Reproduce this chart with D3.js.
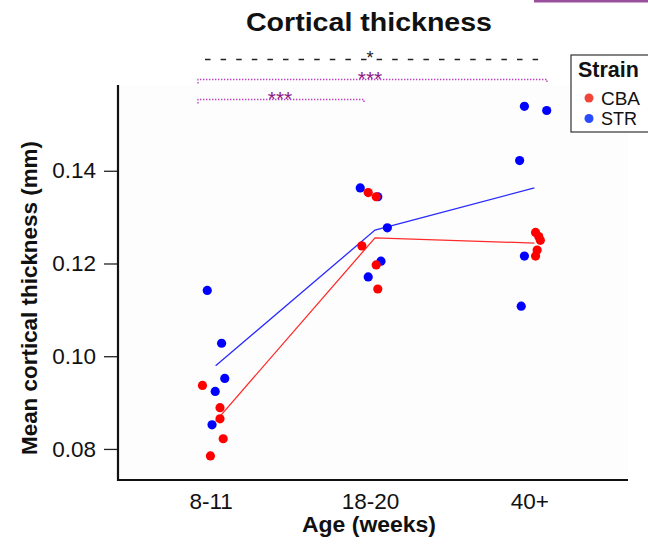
<!DOCTYPE html>
<html>
<head>
<meta charset="utf-8">
<script src="https://cdn.jsdelivr.net/npm/d3@7"></script>
<style>
  body { margin: 0; background: white; }
  text { font-family: "Liberation Sans", Arial, sans-serif; }
</style>
</head>
<body>
<div id="container"></div>
<script>
let w = 648;
let h = 545;

// data
let ages = ["8-11", "18-20", "40+"];
let strains = ["CBA", "STR"];
let yTicks = [0.08, 0.10, 0.12, 0.14];

let cbaAge = ["8-11", "8-11", "8-11", "8-11", "8-11",
              "18-20", "18-20", "18-20", "18-20", "18-20",
              "40+", "40+", "40+", "40+", "40+"];
let cbaValue = [0.0937, 0.0889, 0.0865, 0.0822, 0.0785,
                0.1353, 0.1344, 0.1238, 0.1197, 0.1145,
                0.1267, 0.1258, 0.1250, 0.1229, 0.1216];
let cbaJitter = [-0.07, 0.04, 0.04, 0.06, -0.02,
                 -0.03, 0.02, -0.07, 0.02, 0.03,
                 0.02, 0.04, 0.05, 0.03, 0.02];

let strAge = ["8-11", "8-11", "8-11", "8-11", "8-11",
              "18-20", "18-20", "18-20", "18-20", "18-20",
              "40+", "40+", "40+", "40+", "40+"];
let strValue = [0.1142, 0.1028, 0.0952, 0.0924, 0.0852,
                0.1363, 0.1344, 0.1277, 0.1205, 0.1171,
                0.1539, 0.1530, 0.1422, 0.1216, 0.1108];
let strJitter = [-0.04, 0.05, 0.07, 0.01, -0.01,
                 -0.08, 0.03, 0.09, 0.05, -0.03,
                 -0.05, 0.09, -0.08, -0.05, -0.07];

let colors = {CBA: "#ff0000", STR: "#0000ff"};
let lineColors = {CBA: "#ff2a2a", STR: "#2a2aff"};
let legendColors = {CBA: "#f2443a", STR: "#2a4cff"};

let viz = d3.select("#container")
  .append("svg")
    .attr("width", w)
    .attr("height", h)
    .style("background-color", "white")
;

let padLeft = 118, padRight = 628, padTop = 85, padBottom = 480;

let xScale = d3.scalePoint().domain(ages).range([padLeft, padRight]).padding(0.6);
let step = xScale.step();
let yScale = d3.scaleLinear().domain([0.0733, 0.1585]).range([padBottom, padTop]);

// faint panel
viz.append("rect")
  .attr("x", padLeft).attr("y", padTop)
  .attr("width", padRight - padLeft).attr("height", padBottom - padTop)
  .attr("fill", "#fdfdfd");

// stray purple strip at the top right
viz.append("rect")
  .attr("x", 534).attr("y", 0).attr("width", 114).attr("height", 2.5)
  .attr("fill", "#9a4f9e");

// axes
let yAxis = d3.axisLeft(yScale).tickValues(yTicks).tickFormat(d3.format(".2f")).tickSize(14).tickPadding(8);
let yg = viz.append("g").attr("transform", "translate(" + padLeft + ",0)").call(yAxis);
yg.select(".domain").remove();
yg.selectAll("line").attr("stroke", "#222").attr("stroke-width", 1.3);
yg.selectAll("text").attr("font-size", 22.5).attr("fill", "#111").attr("font-family", "Liberation Sans, Arial");

let xAxis = d3.axisBottom(xScale).tickSize(0).tickPadding(13);
let xg = viz.append("g").attr("transform", "translate(0," + padBottom + ")").call(xAxis);
xg.select(".domain").remove();
xg.selectAll("text").attr("font-size", 22.5).attr("fill", "#111").attr("font-family", "Liberation Sans, Arial")
  .attr("dx", -3);

viz.append("line").attr("x1", padLeft).attr("x2", padLeft).attr("y1", padTop).attr("y2", padBottom + 1)
  .attr("stroke", "#111").attr("stroke-width", 2.2);
viz.append("line").attr("x1", padLeft - 1).attr("x2", padRight).attr("y1", padBottom).attr("y2", padBottom)
  .attr("stroke", "#111").attr("stroke-width", 2.2);

// mean lines
function means(ageArr, valArr){
  return ages.map(function(a){
    let vals = valArr.filter(function(v, i){ return ageArr[i] == a; });
    return {age: a, value: d3.mean(vals)};
  });
}
let lineGen = d3.line()
  .x(function(d){ return xScale(d.age) + 2; })
  .y(function(d){ return yScale(d.value); });

viz.append("path").datum(means(strAge, strValue))
  .attr("d", lineGen).attr("fill", "none")
  .attr("stroke", lineColors.STR).attr("stroke-width", 1.3);
viz.append("path").datum(means(cbaAge, cbaValue))
  .attr("d", lineGen).attr("fill", "none")
  .attr("stroke", lineColors.CBA).attr("stroke-width", 1.3);

// points
function drawPoints(ageArr, valArr, jitArr, color){
  let pts = ageArr.map(function(a, i){ return {age: a, value: valArr[i], jit: jitArr[i]}; });
  viz.append("g").selectAll("circle").data(pts).enter()
    .append("circle")
      .attr("cx", function(d){ return xScale(d.age) + d.jit * step; })
      .attr("cy", function(d){ return yScale(d.value); })
      .attr("r", 4.6)
      .attr("fill", color);
}
drawPoints(strAge, strValue, strJitter, colors.STR);
drawPoints(cbaAge, cbaValue, cbaJitter, colors.CBA);

// significance brackets
let sig = viz.append("g");
sig.append("line")
  .attr("x1", 205).attr("x2", 541).attr("y1", 59.5).attr("y2", 59.5)
  .attr("stroke", "#222").attr("stroke-width", 1.5).attr("stroke-dasharray", "5.5,10.1");
sig.append("text").text("*")
  .attr("x", 370).attr("y", 64).attr("text-anchor", "middle")
  .attr("font-size", 18).attr("fill", "#222");

let purple = "#c040c0";
function bracket(x1, x2, y, label, lx){
  sig.append("path")
    .attr("d", "M" + x1 + "," + (y + 4) + "V" + y + "H" + x2 + "V" + (y + 4))
    .attr("fill", "none").attr("stroke", purple).attr("stroke-width", 1.4)
    .attr("stroke-dasharray", "1.4,1.6");
  sig.append("text").text(label)
    .attr("x", lx).attr("y", y + 6).attr("text-anchor", "middle")
    .attr("font-size", 21).attr("fill", "#8a1a8a");
}
bracket(198, 547, 79.5, "***", 370);
bracket(198, 364, 99.5, "***", 280);

// titles
viz.append("text").text("Cortical thickness")
  .attr("x", 369).attr("y", 31).attr("text-anchor", "middle")
  .attr("font-size", 26).attr("font-weight", "bold").attr("fill", "#111")
  .attr("textLength", 246).attr("lengthAdjust", "spacingAndGlyphs");
viz.append("text").text("Age (weeks)")
  .attr("x", 369).attr("y", 532).attr("text-anchor", "middle")
  .attr("font-size", 22.5).attr("font-weight", "bold").attr("fill", "#111")
  .attr("textLength", 134).attr("lengthAdjust", "spacingAndGlyphs");
viz.append("text").text("Mean cortical thickness (mm)")
  .attr("transform", "translate(37,298) rotate(-90)").attr("text-anchor", "middle")
  .attr("font-size", 22.5).attr("font-weight", "bold").attr("fill", "#111")
  .attr("textLength", 314).attr("lengthAdjust", "spacingAndGlyphs");

// legend
let legend = viz.append("g");
legend.append("rect")
  .attr("x", 571).attr("y", 55).attr("width", 90).attr("height", 77)
  .attr("fill", "white").attr("stroke", "#333").attr("stroke-width", 1.2);
legend.append("text").text("Strain")
  .attr("x", 578).attr("y", 77)
  .attr("font-size", 21.5).attr("font-weight", "bold").attr("fill", "#111");
let items = legend.selectAll(".item").data(strains).enter()
  .append("g")
    .attr("transform", function(d, i){ return "translate(589," + (98 + i * 20.5) + ")"; });
items.append("circle").attr("r", 4.5).attr("fill", function(d){ return legendColors[d]; });
items.append("text").text(function(d){ return d; })
  .attr("x", 12).attr("y", 6.5)
  .attr("font-size", 18).attr("fill", "#111")
  .attr("textLength", function(d){ return d == "CBA" ? 39 : 36; }).attr("lengthAdjust", "spacingAndGlyphs");
</script>
</body>
</html>
